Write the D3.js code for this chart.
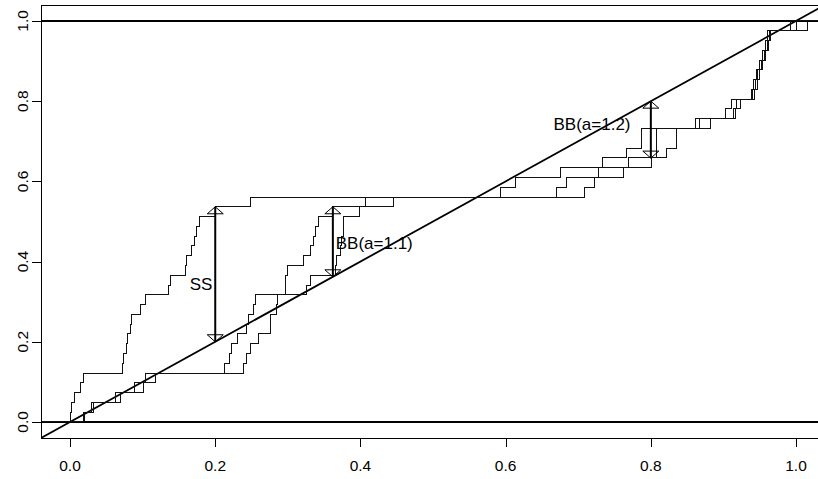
<!DOCTYPE html>
<html><head><meta charset="utf-8">
<script src="https://cdn.jsdelivr.net/npm/d3@7"></script>
<style>
body{margin:0;background:#fff}
svg{display:block}
text{font-family:"Liberation Sans",Arial,Helvetica,sans-serif;fill:#000}
</style>
</head><body>
<svg id="chart" width="818" height="479"></svg>
<script>
// number of observations: each jump raises the curve by 1/N
const N = 41;
// x positions of successive jumps for each step curve
const ssJumps = [0.0000,0.0023,0.0055,0.0138,0.0183,0.0726,0.0737,0.0771,0.0785,0.0826,
  0.0847,0.0964,0.1033,0.1354,0.1387,0.1584,0.1607,0.1676,0.1708,0.1736,
  0.1781,0.2000,0.2479,0.5932,0.6129,0.6749,0.7337,0.7658,0.7874,0.7874,
  0.8609,0.9022,0.9114,0.9380,0.9415,0.9455,0.9500,0.9540,0.9580,0.9610,0.9917];
const bb11Jumps = [0.0183,0.0289,0.0620,0.0886,0.1033,0.2121,0.2194,0.2227,0.2304,0.2434,
  0.2456,0.2525,0.2548,0.2961,0.2961,0.2989,0.3209,0.3306,0.3347,0.3375,
  0.3420,0.3620,0.4063,0.6704,0.6842,0.7277,0.7690,0.8081,0.8081,0.8081,
  0.8668,0.9137,0.9183,0.9405,0.9440,0.9475,0.9520,0.9560,0.9600,0.9630,1.0000];
const bb12Jumps = [0.0197,0.0321,0.0689,0.1010,0.1171,0.2387,0.2434,0.2479,0.2594,0.2755,
  0.2764,0.2847,0.2855,0.3260,0.3306,0.3650,0.3674,0.3719,0.3742,0.3765,
  0.3765,0.3985,0.4453,0.7080,0.7222,0.7621,0.8012,0.8219,0.8357,0.8357,
  0.8825,0.9160,0.9229,0.9430,0.9465,0.9500,0.9540,0.9580,0.9620,0.9650,1.0152];
const xTicks = [0, 0.2, 0.4, 0.6, 0.8, 1.0];
const yTicks = [0, 0.2, 0.4, 0.6, 0.8, 1.0];
const hLines = [0, 1];
// difference arrows: x, curve value, diagonal value
const arrowX = [0.2, 0.362, 0.8];
const arrowFrom = [22/41, 22/41, 0.8];
const arrowTo = [0.2, 0.362, 0.658];
// annotations
const labelText = ["SS", "BB(a=1.1)", "BB(a=1.2)"];
const labelX = [0.196, 0.366, 0.772];
const labelY = [0.329, 0.431, 0.728];
const labelAnchor = ["end", "start", "end"];

const svg = d3.select("#chart");
const x = d3.scaleLinear().domain([-0.04, 1.04]).range([41, 41 + 1.08 * 726]);
const y = d3.scaleLinear().domain([-0.04, 1.04]).range([438, 438 - 1.08 * 401]);

svg.append("defs").append("clipPath").attr("id", "clip")
  .append("rect").attr("x", 41).attr("y", y(1.04)).attr("width", x(1.04) - 41).attr("height", 438 - y(1.04));

const plot = svg.append("g").attr("clip-path", "url(#clip)");

// reference lines
plot.selectAll("line.h").data(hLines).join("line").attr("class", "h")
  .attr("x1", x(-0.04)).attr("x2", x(1.04)).attr("y1", d => y(d)).attr("y2", d => y(d))
  .attr("stroke", "#000").attr("stroke-width", 2);
plot.append("line")
  .attr("x1", x(-0.04)).attr("y1", y(-0.04)).attr("x2", x(1.04)).attr("y2", y(1.04))
  .attr("stroke", "#000").attr("stroke-width", 1.8);

// step curves
const line = d3.line().x(d => x(d[0])).y(d => y(d[1])).curve(d3.curveStepAfter);
function pts(j) {
  const p = [[-0.04, 0]];
  j.forEach((v, i) => p.push([v, (i + 1) / N]));
  p.push([1.04, 1]);
  return p;
}
[ssJumps, bb11Jumps, bb12Jumps].forEach(j => {
  plot.append("path").attr("d", line(pts(j)))
    .attr("fill", "none").attr("stroke", "#111").attr("stroke-width", 1)
    .attr("shape-rendering", "crispEdges");
});

// arrows
const hw = 8, hh = 7;
arrowX.forEach((ax, i) => {
  const px = x(ax), pa = y(arrowFrom[i]), pb = y(arrowTo[i]);
  const dir = pb > pa ? 1 : -1;
  plot.append("line").attr("x1", px).attr("x2", px).attr("y1", pa).attr("y2", pb)
    .attr("stroke", "#000").attr("stroke-width", 2);
  [[pa, -dir], [pb, dir]].forEach(([tip, s]) => {
    const base = tip - s * hh;
    plot.append("path")
      .attr("d", `M${px},${tip}L${px - hw},${base}L${px + hw},${base}Z`)
      .attr("fill", "none").attr("stroke", "#000").attr("stroke-width", 1);
  });
});

// labels
labelText.forEach((t, i) => {
  svg.append("text").attr("x", x(labelX[i])).attr("y", y(labelY[i]))
    .attr("text-anchor", labelAnchor[i]).attr("font-size", 17).text(t);
});

// box
svg.append("rect").attr("x", 41.5).attr("y", Math.round(y(1.04)) + 0.5)
  .attr("width", x(1.04) - 41).attr("height", 438 - Math.round(y(1.04)))
  .attr("fill", "none").attr("stroke", "#000").attr("stroke-width", 1);

// x axis
const xa = svg.append("g");
xa.selectAll("line").data(xTicks).join("line")
  .attr("x1", d => Math.round(x(d)) + 0.5).attr("x2", d => Math.round(x(d)) + 0.5)
  .attr("y1", 438).attr("y2", 447).attr("stroke", "#000");
xa.selectAll("text").data(xTicks).join("text")
  .attr("x", d => x(d)).attr("y", 471).attr("text-anchor", "middle")
  .attr("font-size", 15.5).text(d => d3.format(".1f")(d));

// y axis
const ya = svg.append("g");
ya.selectAll("line").data(yTicks).join("line")
  .attr("x1", 32).attr("x2", 41)
  .attr("y1", d => Math.round(y(d)) + 0.5).attr("y2", d => Math.round(y(d)) + 0.5)
  .attr("stroke", "#000");
ya.selectAll("text").data(yTicks).join("text")
  .attr("transform", d => `translate(28,${y(d)}) rotate(-90)`)
  .attr("text-anchor", "middle").attr("font-size", 15.5)
  .text(d => d3.format(".1f")(d));
</script>
</body></html>
